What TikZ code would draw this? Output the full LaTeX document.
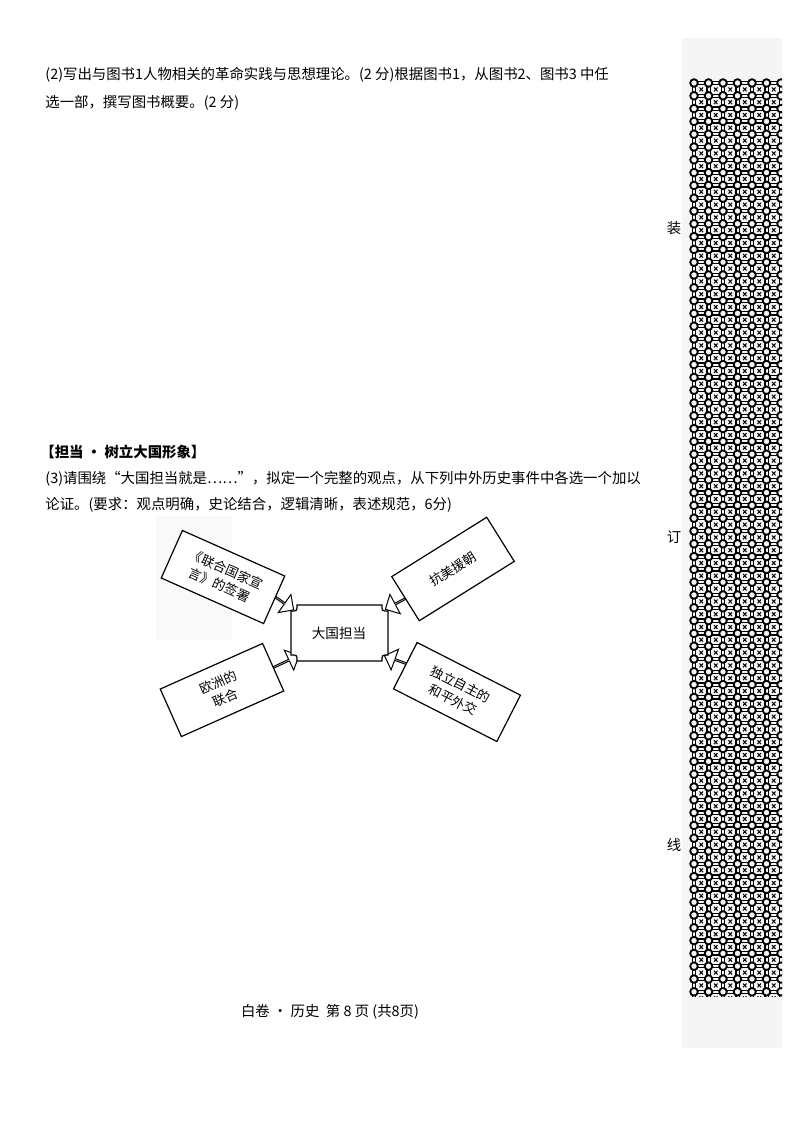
\documentclass[tikz,border=0pt]{standalone}
\usepackage{fontspec}
\setmainfont{Noto Sans CJK SC}
\usetikzlibrary{shapes.arrows}
\begin{document}
\begin{tikzpicture}[x=0.5pt,y=-0.5pt,
  txt/.style={anchor=west,inner sep=0,font=\fontsize{7.2}{9}\selectfont},
  evbox/.style={draw,line width=0.6pt,fill=white,minimum width=56pt,minimum height=26pt,align=center,font=\fontsize{6.5}{8.5}\selectfont,inner sep=1pt},
  barrow/.style={single arrow,draw,line width=0.5pt,fill=white,minimum height=15pt,minimum width=11pt,single arrow head extend=3pt,inner sep=0pt}]
\useasboundingbox (0,0) rectangle (800,1130);
\fill[white] (0,0) rectangle (800,1130);
% side strip
\fill[gray!8] (682,38) rectangle (782,1048);
\begin{scope}
\clip (686,76) rectangle (782,996);
\foreach \c in {0,...,6}{
  \foreach \r in {0,...,71}{
    \pgfmathsetmacro{\xx}{694+14.5*\c}
    \pgfmathsetmacro{\yy}{83+12.8*\r}
    \draw[line width=0.9pt] (\xx,\yy) circle (3.8);
    \draw[line width=0.6pt] (\xx+3.8,\yy-1.6) -- (\xx+10.7,\yy-1.6) (\xx+3.8,\yy+1.6) -- (\xx+10.7,\yy+1.6);
    \draw[line width=0.6pt] (\xx-1.6,\yy+3.8) -- (\xx-1.6,\yy+9) (\xx+1.6,\yy+3.8) -- (\xx+1.6,\yy+9);
    \draw[line width=0.5pt] (\xx+5.5,\yy+4.5) -- (\xx+9,\yy+8.3) (\xx+9,\yy+4.5) -- (\xx+5.5,\yy+8.3);
  }}
\end{scope}
\node[font=\fontsize{7.2}{9}\selectfont] (zhuang) at (674,228) {装};
\node[font=\fontsize{7.2}{9}\selectfont] (ding) at (674,537) {订};
\node[font=\fontsize{7.2}{9}\selectfont] (xian) at (674,845) {线};
% texts
\node[txt] (l1) at (45,75) {(2)写出与图书1人物相关的革命实践与思想理论。(2 分)根据图书1，从图书2、图书3 中任};
\node[txt] (l2) at (45,103) {选一部，撰写图书概要。(2 分)};
\node[txt,font=\fontsize{7.2}{9}\selectfont\bfseries] (h) at (40,452) {【担当 · 树立大国形象】};
\node[txt] (l3) at (45,479) {(3)请围绕“大国担当就是……”，拟定一个完整的观点，从下列中外历史事件中各选一个加以};
\node[txt] (l4) at (45,505) {论证。(要求：观点明确，史论结合，逻辑清晰，表述规范，6分)};
\node[font=\fontsize{7.2}{9}\selectfont] (foot) at (330,1012) {白卷 • 历史\ \ 第 8 页 (共8页)};
% faint gray area
\fill[gray!5] (156,516) rectangle (232,640);
% arrows
\node[barrow,rotate=-35] (a1) at (281,601) {};
\node[barrow,rotate=208] (a2) at (399,602) {};
\node[barrow,rotate=25] (a3) at (285,662) {};
\node[barrow,rotate=160] (a4) at (399,661) {};
% event boxes
\node[evbox,rotate=-24] (e1) at (223,577) {《联合国家宣\\言》的签署};
\node[evbox,rotate=32] (e2) at (453,569) {抗美援朝};
\node[evbox,rotate=24] (e3) at (222,690) {欧洲的\\联合};
\node[evbox,rotate=-27,minimum width=58pt] (e4) at (457,692) {独立自主的\\和平外交};
% center
\draw[line width=0.6pt,fill=white] (297,605) -- (382,605) .. controls (382,611) .. (388,611) -- (388,655)
  .. controls (382,655) .. (382,661) -- (297,661) .. controls (297,655) .. (291,655) -- (291,611)
  .. controls (297,611) .. (297,605) -- cycle;
\node[font=\fontsize{6.8}{8}\selectfont] (c) at (339,633) {大国担当};
\end{tikzpicture}
\end{document}
